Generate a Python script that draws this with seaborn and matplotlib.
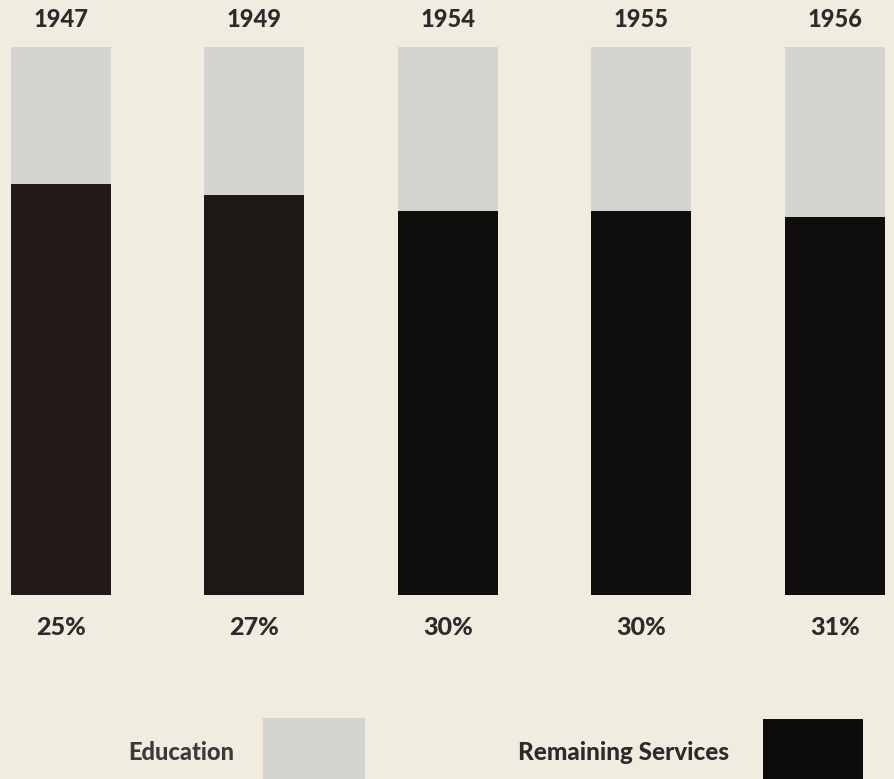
import numpy as np
import pandas as pd
import matplotlib
matplotlib.use('Agg')
import matplotlib.pyplot as plt
import matplotlib.patches as mpatches
import seaborn as sns

years = ['1947', '1949', '1954', '1955', '1956']
education = [25, 27, 30, 30, 31]
remaining = [100 - e for e in education]
pct_labels = ['25%', '27%', '30%', '30%', '31%']

bg = '#f0ede0'
light = '#d4d4d0'
# older prints are a bit browner
dark_cols = ['#211a18', '#1d1716', '#100d0d', '#0f0d0d', '#0f0d0d']
txt = '#2b2b2b'

sns.set_theme(style='white')
plt.rcParams['font.family'] = ['Lato', 'DejaVu Sans']

df = pd.DataFrame({'year': years, 'total': [100] * len(years), 'remaining': remaining})

fig = plt.figure(figsize=(8.94, 7.79), dpi=100, facecolor=bg)
ax = fig.add_axes([0, 0, 1, 1])
ax.set_facecolor(bg)

# education shows as the light top part of each 100% bar
sns.barplot(data=df, x='year', y='total', order=years, color=light,
            saturation=1, width=0.517, linewidth=0, ax=ax)
sns.barplot(data=df, x='year', y='remaining', order=years, hue='year',
            palette=dark_cols, legend=False,
            saturation=1, width=0.517, linewidth=0, ax=ax)

ax.set_xlim(-0.315, 4.305)
ax.set_ylim(-33.58, 108.58)
ax.axis('off')

for i, (yr, p) in enumerate(zip(years, pct_labels)):
    ax.text(i, 105.1, yr, ha='center', va='center', fontsize=17,
            fontweight='black', color=txt)
    ax.text(i, -6.0, p, ha='center', va='center', fontsize=18,
            fontweight='black', color=txt)

# legend drawn by hand in figure coords
W, H = 894, 779
fig.text(181 / W, 1 - 752 / H, 'Education', ha='center', va='center',
         fontsize=17, fontweight='black', color='#3a3a3a')
fig.add_artist(mpatches.Rectangle((263 / W, 0), 102 / W, (779 - 718) / H,
                                  transform=fig.transFigure, color=light, lw=0))
fig.text(624 / W, 1 - 752 / H, 'Remaining Services', ha='center', va='center',
         fontsize=17.5, fontweight='black', color='#2b2b2b')
fig.add_artist(mpatches.Rectangle((763 / W, 0), 100 / W, (779 - 719) / H,
                                  transform=fig.transFigure, color='#0d0b0b', lw=0))

fig.savefig('out.png', dpi=100, facecolor=bg)
